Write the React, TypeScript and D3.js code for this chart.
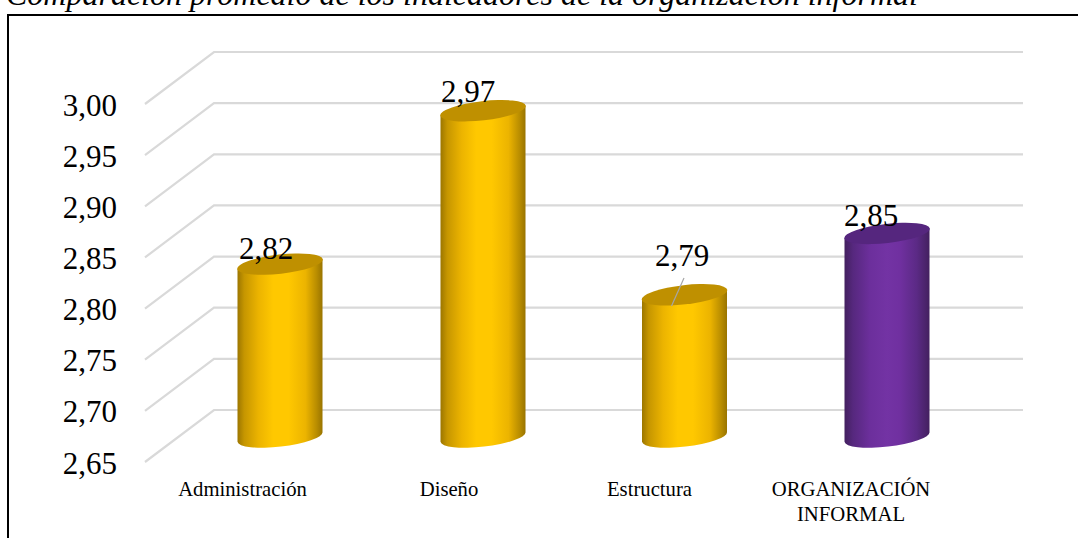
import React from "react";
import * as d3 from "d3";

const categories = ["Administración", "Diseño", "Estructura", "ORGANIZACIÓN INFORMAL"];
const values = [2.82, 2.97, 2.79, 2.85];
const ticks = [2.65, 2.7, 2.75, 2.8, 2.85, 2.9, 2.95, 3.0];
const title = "Comparación promedio de los indicadores de la organización informal";
const categoryLines = [["Administración"], ["Diseño"], ["Estructura"], ["ORGANIZACIÓN", "INFORMAL"]];
const barColors = ["gold", "gold", "gold", "purple"];
const barCenters = [280, 483, 684.5, 887];
const catX = [242.5, 449, 649.5, 851];
const labelX = [266, 468, 682, 871];
const labelY = [259, 102, 266, 226];

const W = 1078, H = 538;
const DX = 69, DY = -52;
const font = "'Liberation Serif', 'Times New Roman', serif";

const y = d3.scaleLinear().domain([2.65, 3.0]).range([462, 104]);
const fmt = (v: number) => d3.format(".2f")(v).replace(".", ",");

const palette: Record<string, { stops: [number, string][]; top: string }> = {
  gold: {
    top: "#bf9000",
    stops: [[0, "#9c7600"], [0.08, "#c69600"], [0.25, "#ecb400"], [0.42, "#ffc800"], [0.6, "#ffc800"], [0.8, "#ecb400"], [0.93, "#b98d00"], [1, "#997400"]],
  },
  purple: {
    top: "#55267e",
    stops: [[0, "#43205f"], [0.1, "#56287e"], [0.3, "#6c2f9c"], [0.5, "#7333a4"], [0.65, "#7030a0"], [0.85, "#5b2a85"], [1, "#43205f"]],
  },
};

const RX = 42.5, RY = 9.6, TILT = -6.5;

function Cyl({ cx, v, color, id }: { cx: number; v: number; color: string; id: string }) {
  const yTop = y(v) + DY / 2 + 2;
  const yBot = y(2.65) + DY / 2 + 1;
  const t = (TILT * Math.PI) / 180;
  const xL = cx - RX, xR = cx + RX;
  const sh = RX * Math.tan(t);
  const body = `M${xL},${yTop - sh} L${xL},${yBot - sh} A${RX},${RY} ${TILT} 0 0 ${xR},${yBot + sh} L${xR},${yTop + sh} Z`;
  return (
    <g>
      <path d={body} fill={`url(#${id})`} />
      <ellipse cx={cx} cy={yTop} rx={RX + 0.6} ry={RY} transform={`rotate(${TILT} ${cx} ${yTop})`} fill={palette[color].top} />
    </g>
  );
}

export default function App() {
  return (
    <svg width={W} height={H} style={{ position: "absolute", left: 0, top: 0, background: "#fff" }}>
      <defs>
        {barColors.map((c, i) => (
          <linearGradient key={i} id={`g${i}`} x1="0" x2="1" y1="0" y2="0">
            {palette[c].stops.map(([o, col], j) => (
              <stop key={j} offset={o} stopColor={col} />
            ))}
          </linearGradient>
        ))}
      </defs>
      <text x={6} y={5} fontFamily={font} fontStyle="italic" fontSize={32} fill="#000">{title}</text>
      <rect x={8} y={15} width={1200} height={600} fill="none" stroke="#000" strokeWidth={2} />
      {ticks.map((t) => (
        <g key={t}>
          <polyline
            points={`145,${y(t)} ${145 + DX},${y(t) + DY} 1023,${y(t) + DY}`}
            fill="none" stroke="#d9d9d9" strokeWidth={2.2}
          />
          <text x={117} y={y(t) + 11.5} textAnchor="end" fontFamily={font} fontSize={31} fill="#000">{fmt(t)}</text>
        </g>
      ))}
      {values.map((v, i) => (
        <Cyl key={i} cx={barCenters[i]} v={v} color={barColors[i]} id={`g${i}`} />
      ))}
      <line x1={671.5} y1={306} x2={684} y2={278} stroke="#a6a6a6" strokeWidth={1.2} />
      {values.map((v, i) => (
        <text key={i} x={labelX[i]} y={labelY[i]} textAnchor="middle" fontFamily={font} fontSize={31} fill="#000">{fmt(v)}</text>
      ))}
      {categoryLines.map((ls, i) => (
        <text key={i} fontFamily={font} fontSize={20.7} fill="#000" textAnchor="middle" aria-label={categories[i]}>
          {ls.map((l, j) => (
            <tspan key={j} x={catX[i]} y={496 + j * 25}>{l}</tspan>
          ))}
        </text>
      ))}
    </svg>
  );
}
